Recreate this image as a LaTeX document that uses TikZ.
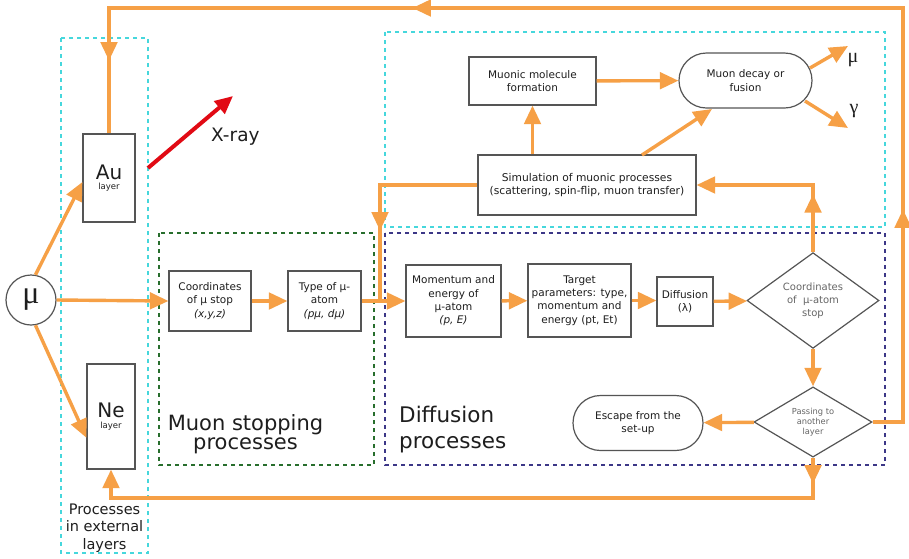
\documentclass[tikz,border=0pt]{standalone}
\usepackage{fontspec}
\setmainfont{DejaVu Sans}
\newfontfamily\serifgr{Liberation Serif}
\usetikzlibrary{arrows.meta,shapes.geometric,shapes.misc,decorations.markings,calc}
\definecolor{org}{RGB}{246,160,70}
\definecolor{cyn}{RGB}{70,215,220}
\definecolor{grn}{RGB}{40,110,45}
\definecolor{blu}{RGB}{60,55,135}
\definecolor{bord}{RGB}{85,85,85}
\definecolor{txt}{RGB}{30,30,30}
\definecolor{xred}{RGB}{225,10,20}
\begin{document}
\begin{tikzpicture}[x=1pt,y=-1pt,
  >={Triangle[length=18.5pt,width=16.5pt]},
  oline/.style={draw=org,line width=3.4pt},
  oarrow/.style={oline,->},
  boxn/.style={draw=bord,line width=1.2pt,fill=white,inner sep=1pt,align=center,text=txt,font=\fontsize{10.5}{13.3}\selectfont},
  diam/.style={diamond,draw=bord,line width=1.2pt,fill=white,inner sep=0pt,align=center,text=black!60,font=\fontsize{10}{13}\selectfont},
  rbox/.style={rounded rectangle,draw=bord,line width=1.2pt,fill=white,inner sep=1pt,align=center,text=txt,font=\fontsize{10.5}{13.3}\selectfont},
  groupbox/.style={line width=2pt,dash pattern=on 4pt off 4pt},
  lbl/.style={text=txt,inner sep=0pt}
]
\useasboundingbox[fill=white] (0,0) rectangle (909,558);

% group boxes
\draw[groupbox,draw=cyn] (61,38) rectangle (148,553);
\draw[groupbox,draw=grn] (159,233) rectangle (374,465);
\draw[groupbox,draw=blu] (385,233) rectangle (885,465);
\draw[groupbox,draw=cyn] (385,32) rectangle (885,227);

% nodes
\node[circle,draw=bord,line width=1.2pt,fill=white,minimum size=50pt,inner sep=0pt,font=\serifgr\fontsize{32}{34}\selectfont,text=txt] (mu) at (31,300) {μ};
\node[boxn,minimum width=52pt,minimum height=88pt] (au) at (109,178) {{\fontsize{20}{22}\selectfont Au}\\[-3pt]{\fontsize{8.5}{9}\selectfont layer}};
\node[boxn,minimum width=48pt,minimum height=105pt] (ne) at (111,416.5) {{\fontsize{20}{22}\selectfont Ne}\\[-3pt]{\fontsize{8.5}{9}\selectfont layer}};
\node[boxn,minimum width=82pt,minimum height=60pt] (coord) at (210,301) {Coordinates\\of μ stop\\\textit{(x,y,z)}};
\node[boxn,minimum width=73pt,minimum height=60pt] (type) at (324.5,301) {Type of μ-\\atom\\\textit{(pμ, dμ)}};
\node[boxn,minimum width=95pt,minimum height=72pt] (mom) at (453.5,301) {Momentum and\\energy of\\μ-atom\\\textit{(p, E)}};
\node[boxn,minimum width=103pt,minimum height=73pt] (targ) at (579.5,300.5) {Target\\parameters: type,\\momentum and\\energy (pt, Et)};
\node[boxn,minimum width=56pt,minimum height=49pt] (diff) at (685,301.5) {Diffusion\\(λ)};
\node[diam,minimum width=132pt,minimum height=93pt] (cdiam) at (813,300.5) {Coordinates\\of\ \ μ-atom\\stop};
\node[diam,minimum width=118pt,minimum height=70pt,font=\fontsize{8.3}{10}\selectfont] (pdiam) at (813,422) {Passing to\\another\\layer};
\node[rbox,minimum width=132pt,minimum height=55pt] (esc) at (638,423) {Escape from the\\set-up};
\node[boxn,minimum width=218pt,minimum height=60pt,font=\fontsize{10.7}{13.5}\selectfont] (sim) at (587,185) {Simulation of muonic processes\\(scattering, spin-flip, muon transfer)};
\node[boxn,minimum width=127pt,minimum height=48pt] (mol) at (532.5,81) {Muonic molecule\\formation};
\node[rbox,minimum width=135pt,minimum height=55pt] (decay) at (745.5,80.5) {Muon decay or\\fusion};

% labels
\node[lbl,anchor=west,font=\fontsize{18.5}{20}\selectfont] (xray) at (211,137) {X-ray};
\node[lbl,align=center,font=\fontsize{21}{19}\selectfont] (mstop) at (245.5,434) {Muon stopping\\processes};
\node[lbl,align=left,anchor=west,font=\fontsize{21.5}{26}\selectfont] (dproc) at (399,430) {Diffusion\\processes};
\node[lbl,align=center,font=\fontsize{14.5}{17.5}\selectfont] (ext) at (104.5,528) {Processes\\in external\\layers};
\node[lbl,font=\serifgr\fontsize{20}{20}\selectfont] (mulbl) at (853,60) {μ};
\node[lbl,font=\serifgr\fontsize{20}{20}\selectfont] (gamlbl) at (854,111) {γ};

% coordinates
\coordinate (jn) at (380,300);
\coordinate (sd1) at (642,155);
\coordinate (sd2) at (712,109);
\coordinate (mu1) at (810,68);
\coordinate (mu2) at (848,46);
\coordinate (ga1) at (805,101);
\coordinate (ga2) at (848,128);
\coordinate (xr1) at (148,168);
\coordinate (xr2) at (233,96);
\coordinate (newest) at ($(ne.south west)!0.3!(ne.north west)$);
\coordinate (auwest) at ($(au.west)+(0,4)$);

% connectors
\draw[oarrow] (mu.80) -- (auwest);
\draw[oarrow] (mu.-80) -- (newest);
\draw[oarrow] (mu.east) -- (coord.west);
\draw[oarrow] (coord) -- (type);
\draw[oarrow] (type) -- (mom);
\draw[oarrow] (mom) -- (targ);
\draw[oarrow] (targ.east) -- (diff.west |- targ.east);
\draw[oarrow] (diff) -- (cdiam);
\draw[oarrow] (cdiam) -- (pdiam);
\draw[oarrow] (pdiam) -- (esc);
\draw[oarrow] (mol) -- (decay);
\draw[oarrow] (mol.south |- sim.north) -- (mol.south);
\draw[oarrow] (sd1) -- (sd2);
\draw[oarrow] (mu1) -- (mu2);
\draw[oarrow] (ga1) -- (ga2);
\draw[oarrow,postaction={decorate},decoration={markings,mark=at position 58pt with {\arrow[color=org]{>}}}]
  (cdiam.north) -- (cdiam.north |- sim.east) -- (sim.east);
\draw[oline,postaction={decorate},decoration={markings,mark=at position 143pt with {\arrow[color=org]{>}}}]
  (sim.west) -- (jn |- sim.west) -- (jn);
\draw[oline,postaction={decorate},decoration={markings,
    mark=at position 243pt with {\arrow[color=org]{>}},
    mark=at position 935pt with {\arrow[color=org]{>}},
    mark=at position 1291pt with {\arrow[color=org]{>}}}]
  (pdiam.east) -- (903,422) -- (903,8) -- (au.north |- 0,8) -- (au.north);
\draw[oarrow,postaction={decorate},decoration={markings,mark=at position 26pt with {\arrow[color=org]{>}}}]
  (pdiam.south) -- (pdiam.south |- 0,498) -- (ne.south |- 0,498) -- (ne.south);
\draw[draw=xred,line width=4pt,-{Triangle[length=18pt,width=16pt]}] (xr1) -- (xr2);
\end{tikzpicture}
\end{document}
